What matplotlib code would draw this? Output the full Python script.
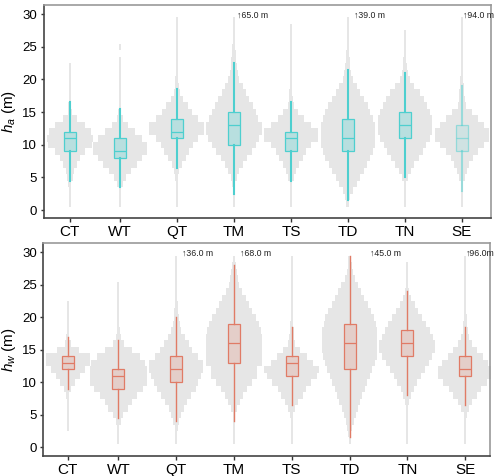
import numpy as np
import matplotlib
matplotlib.use("Agg")
import matplotlib.pyplot as plt

plt.rcParams['font.family'] = ['Liberation Sans', 'DejaVu Sans']
plt.rcParams['mathtext.fontset'] = 'custom'
plt.rcParams['mathtext.rm'] = 'Liberation Sans'
plt.rcParams['mathtext.it'] = 'Liberation Sans:italic'

categories = ['CT', 'WT', 'QT', 'TM', 'TS', 'TD', 'TN', 'SE']
heights = np.arange(0, 31)  # 1 m bins, values 0..30

# relative frequency (violin half-width) per 1 m bin
ha_hist = {
    'CT': [0, 1, 1, 1, 1.5, 3, 4, 6.7, 10, 15, 22, 23, 21, 15, 7, 2, 1.5, 1, 1, 1, 1, 1, 1, 0, 0, 0, 0, 0, 0, 0, 0],
    'WT': [0, 1, 1, 1.2, 2.7, 6, 10.7, 16.7, 21.7, 27, 27, 21.7, 15, 8, 3.3, 1.5, 1, 1, 1, 1, 1, 1, 1, 1, 0, 1, 0, 0, 0, 0, 0],
    'QT': [0, 1, 1, 1, 1, 1.5, 2.5, 5, 8.7, 12.5, 16, 21, 27.5, 27.5, 21, 15, 11, 5.8, 3.3, 2, 1.5, 1, 1, 1, 1, 1, 1, 1, 1, 1, 0],
    'TM': [0, 1, 1, 1.2, 1.5, 3, 5.5, 8.8, 13, 18, 22, 25.5, 27.8, 27.8, 24.5, 22, 19, 15.5, 12, 8.7, 5.5, 3.7, 3.2, 2.5, 2, 1.5, 1, 1, 1, 1, 0],
    'TS': [0, 1, 1, 1, 1, 2.8, 4.7, 8, 11.7, 15, 20, 26.7, 26.7, 20, 13, 7.5, 3, 2, 1.5, 1, 1, 1, 1, 1, 1, 1, 1, 1, 1, 0, 0],
    'TD': [0, 1.5, 2.5, 5, 8.8, 12, 16, 19, 22.5, 25, 27.3, 27.3, 27.3, 27.3, 25, 22.5, 19.7, 16, 12, 8.8, 5, 3.5, 2.5, 2, 1.5, 1, 1, 1, 1, 1, 0],
    'TN': [0, 1, 1, 1, 1, 2.8, 5.8, 9.5, 13.8, 18, 21.3, 24.7, 27, 27, 27, 24.7, 22, 18.7, 14.7, 9.5, 4.7, 3, 2, 1.5, 1, 1, 1, 1, 0, 0, 0],
    'SE': [0, 1, 1, 1, 1, 3, 4.8, 7.5, 10.8, 15.8, 22, 27.2, 27.2, 22, 15.8, 10, 4, 3, 2.5, 2, 1.5, 1, 1, 1, 1, 1, 1, 1, 1, 1, 0],
}
hw_hist = {
    'CT': [0, 0, 0, 1, 1, 1, 1, 1, 1.5, 3.5, 7.5, 12, 17, 22, 22, 11, 3, 1.5, 1, 1, 1, 1, 1, 0, 0, 0, 0, 0, 0, 0, 0],
    'WT': [0, 1, 1, 1, 2.3, 5, 10, 13.3, 18.3, 24.3, 28.3, 28.3, 28.3, 27, 21.7, 13.3, 5.7, 2.3, 1.5, 1, 1, 1, 1, 1, 1, 1, 0, 0, 0, 0, 0],
    'QT': [0, 1, 1, 1.5, 2.8, 5, 7.5, 10.8, 15, 19.5, 22, 25, 27, 27, 21.3, 16, 12.5, 8.3, 5, 3.3, 2.5, 2, 1.5, 1, 1, 1, 1, 1, 1, 1, 0],
    'TM': [0, 1, 1, 1, 1, 1.5, 3.3, 6, 9.3, 13.3, 18.3, 23.3, 23.3, 28.3, 28.3, 28.3, 28.3, 28.3, 27, 25, 21.7, 18.3, 15, 11.7, 8.3, 5.5, 4, 3, 2, 1.5, 0],
    'TS': [0, 1, 1, 1, 1, 1.5, 3.3, 6.7, 10.8, 14, 19.7, 25, 27.3, 21, 15, 8.3, 3.3, 2.5, 2, 1.5, 1, 1, 1, 1, 1, 1, 1, 1, 1, 1, 0],
    'TD': [0, 1, 1.5, 2.5, 4, 6, 8, 10.5, 12.8, 15, 17.5, 20, 22.5, 25, 27, 27.5, 27.5, 27.5, 27.5, 26, 24.7, 21.7, 18, 14.7, 11.3, 8.3, 5, 3, 2, 1.5, 0],
    'TN': [0, 1, 1, 1, 1, 1, 1, 2, 4, 6.5, 10, 13.5, 17.5, 21.5, 25, 28, 28, 25.5, 22.5, 19, 15, 11, 7.5, 4, 2, 1, 1, 1, 1, 0, 0],
    'SE': [0, 1, 1, 1, 1, 1.5, 3.7, 7.3, 11.7, 16.3, 21.7, 26.7, 26.7, 23, 17.5, 12, 7, 4, 2.5, 2, 1.5, 1, 1, 1, 1, 1, 1, 1, 1, 1, 0],
}

# box statistics (m): q1, median, q3, lower whisker, upper whisker
ha_q1 = [9, 8, 11, 10, 9, 9, 11, 9]
ha_med = [11, 9, 12, 13, 11, 11, 13, 11]
ha_q3 = [12, 11, 14, 15, 12, 14, 15, 13]
ha_wlo = [4.5, 3.5, 6.5, 2.5, 4.5, 1.5, 5, 3]
ha_whi = [16.5, 15.5, 18.5, 22.5, 16.5, 21.5, 21, 19]

hw_q1 = [12, 9, 10, 13, 11, 12, 14, 11]
hw_med = [13, 11, 12, 16, 13, 16, 16, 12]
hw_q3 = [14, 12, 14, 19, 14, 19, 18, 14]
hw_wlo = [9, 4.5, 4, 4, 6.5, 1.5, 8, 6.5]
hw_whi = [17, 16.5, 20, 28, 18.5, 29.5, 24, 18.5]

# maxima beyond the axis range
ha_max_labels = {'TM': '↑65.0 m', 'TD': '↑39.0 m', 'SE': '↑94.0 m'}
hw_max_labels = {'QT': '↑36.0 m', 'TM': '↑68.0 m', 'TD': '↑45.0 m', 'SE': '↑96.0m'}

# ---------------- styling / layout ----------------
W, H = 500, 476
fig = plt.figure(figsize=(W / 100, H / 100), dpi=100)
ax_top = fig.add_axes([43.5 / W, 1 - 218 / H, (491 - 43.5) / W, (218 - 5) / H])
ax_bot = fig.add_axes([43.3 / W, 1 - 456 / H, (490 - 43.3) / W, (456 - 242.7) / H])

positions = np.arange(1, 9, dtype=float)
positions[0] += 0.12
VIOLIN_GREY = '#e6e6e6'


def draw_panel(ax, hist, q1, med, q3, wlo, whi, labels, color, fill_alpha,
               whisk_lw, xlim, ylim, ylabel, px_per_unit, label_dx, faded=()):
    ax.set_xlim(*xlim)
    ax.set_ylim(*ylim)
    yy = np.concatenate([[-1], heights, [31]])
    for i, cat in enumerate(categories):
        p = positions[i]
        hwid = np.concatenate([[0], np.array(hist[cat], float), [0]]) / px_per_unit
        ax.fill_betweenx(yy, p - hwid, p + hwid, step='mid', color=VIOLIN_GREY,
                         linewidth=0, zorder=1)
    for i, cat in enumerate(categories):
        a = 0.5 if cat in faded else 1.0
        stats = [dict(med=med[i], q1=q1[i], q3=q3[i], whislo=wlo[i], whishi=whi[i], fliers=[])]
        ax.bxp(stats, positions=[positions[i]], widths=0.21, showcaps=False,
               showfliers=False, patch_artist=True, manage_ticks=False,
               boxprops=dict(facecolor=matplotlib.colors.to_rgba(color, fill_alpha * a),
                             edgecolor=matplotlib.colors.to_rgba(color, a), linewidth=0.9),
               whiskerprops=dict(color=color, alpha=a, linewidth=whisk_lw),
               medianprops=dict(color=color, alpha=a, linewidth=0.9),
               zorder=3)
    for cat, txt in labels.items():
        i = categories.index(cat)
        ax.text(positions[i] + label_dx.get(cat, 0.05), 29.9, txt, fontsize=6.3,
                va='center', ha='left', color='#222222',
                family=['Liberation Sans', 'DejaVu Sans'], zorder=4)
    ax.set_xticks(positions)
    ax.set_xticklabels(categories, fontsize=11)
    ax.set_yticks([0, 5, 10, 15, 20, 25, 30])
    ax.tick_params(axis='y', labelsize=9.5, length=2.5, width=1, color='#333333', pad=2)
    ax.tick_params(axis='x', length=3, width=1, color='#333333', pad=2)
    for s in ('left', 'bottom'):
        ax.spines[s].set_color('#444444')
        ax.spines[s].set_linewidth(1.2)
    for s in ('top', 'right'):
        ax.spines[s].set_color('#999999')
        ax.spines[s].set_linewidth(1.2)
    ax.set_ylabel(ylabel, fontsize=11)
    ax.yaxis.set_label_coords(-0.056, 0.5)


draw_panel(ax_top, ha_hist, ha_q1, ha_med, ha_q3, ha_wlo, ha_whi, ha_max_labels,
           '#4ECFCF', 0.30, 1.5, (0.658, 8.51), (-1.2, 31.4), r'$h_a$ (m)', 57.0,
           {'TM': 0.05, 'TD': 0.1, 'SE': 0.02}, faded=('SE',))
draw_panel(ax_bot, hw_hist, hw_q1, hw_med, hw_q3, hw_wlo, hw_whi, hw_max_labels,
           '#E07B66', 0.22, 1.0, (0.70, 8.43), (-1.35, 31.5), r'$h_w$ (m)', 57.8,
           {'QT': 0.1, 'TM': 0.1, 'TD': 0.35, 'SE': 0.02})

fig.savefig('out.png', dpi=100)
